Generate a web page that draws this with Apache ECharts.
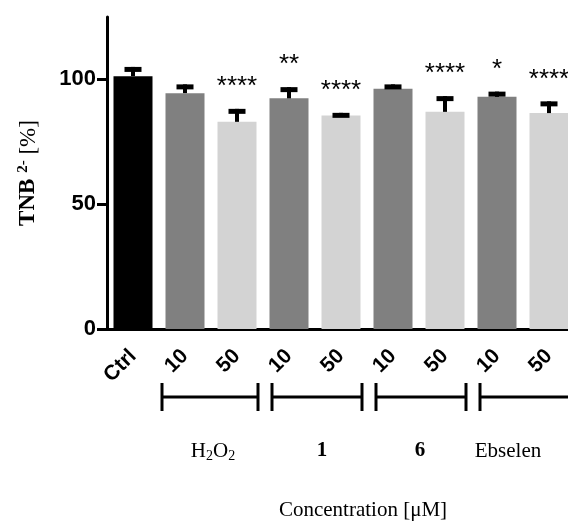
<!DOCTYPE html>
<html>
<head>
<meta charset="utf-8">
<script src="https://cdn.jsdelivr.net/npm/echarts@6/dist/echarts.min.js"></script>
<style>
  html, body { margin: 0; padding: 0; background: #fff; }
  #chart { width: 568px; height: 525px; }
</style>
</head>
<body>
<div id="chart"></div>
<script>
// bar labels along x
var categories = ['Ctrl', '10', '50', '10', '50', '10', '50', '10', '50'];
// mean TNB2- [%] and top of the error bar
var means = [101.3, 94.5, 83.0, 92.4, 85.5, 96.3, 87.0, 93.0, 86.5];
var errTop = [105.0, 98.0, 88.2, 96.9, 86.6, 98.0, 93.3, 95.1, 91.2];
var significance = ['', '', '****', '**', '****', '', '****', '*', '****'];
// groups under the axis: name + first/last bar index
var groups = ['H2O2', '1', '6', 'Ebselen'];
var groupStart = [1, 3, 5, 7];
var groupEnd = [2, 4, 6, 8];
var yTicks = [0, 50, 100];

var myChart = echarts.init(document.getElementById('chart'));

var barColor = function (idx) {
  if (idx === 0) return '#000000';
  return idx % 2 === 1 ? '#808080' : '#d3d3d3';
};

var serif = '"Liberation Serif", "Times New Roman", serif';

var getOptions = function () {
  return {
    animation: false,
    grid: {
      left: 107,
      width: 468, // plot runs past the right edge, last bar is cut like the original
      top: 17,
      bottom: 196,
      outerBoundsMode: 'none'
    },
    xAxis: {
      type: 'category',
      data: categories,
      axisLine: { lineStyle: { color: '#000', width: 3 } },
      axisTick: { show: false },
      axisLabel: {
        interval: 0,
        rotate: 45,
        margin: 24,
        color: '#000',
        fontFamily: 'Liberation Sans, Arial, sans-serif',
        fontWeight: 'bold',
        fontSize: 21
      }
    },
    yAxis: {
      type: 'value',
      min: 0,
      max: 125,
      interval: 50,
      splitLine: { show: false },
      axisLine: { show: true, lineStyle: { color: '#000', width: 3 } },
      axisTick: { show: true, length: 10, customValues: yTicks, lineStyle: { width: 3, color: '#000' } },
      axisLabel: {
        customValues: yTicks,
        margin: 11,
        color: '#000',
        fontFamily: 'Liberation Sans, Arial, sans-serif',
        fontWeight: 'bold',
        fontSize: 22
      },
      name: '{b|TNB }{sup|2-}{r| [%]}',
      nameLocation: 'middle',
      nameGap: 66,
      nameTextStyle: {
        rich: {
          b: { fontFamily: serif, fontWeight: 'bold', fontSize: 23, color: '#000' },
          sup: { fontFamily: serif, fontWeight: 'bold', fontSize: 15, color: '#000', verticalAlign: 'top', padding: [0, 0, 10, 0] },
          r: { fontFamily: serif, fontSize: 23, color: '#000' }
        }
      }
    },
    series: [
      {
        type: 'bar',
        barWidth: 39,
        data: means,
        itemStyle: {
          color: function (p) { return barColor(p.dataIndex); }
        }
      },
      {
        type: 'custom',
        clip: false,
        z: 5,
        data: means.map(function (m, i) { return [i, m, errTop[i]]; }),
        renderItem: function (params, api) {
          var base = api.coord([api.value(0), api.value(1)]);
          var top = api.coord([api.value(0), api.value(2)]);
          return {
            type: 'group',
            children: [
              { type: 'rect', shape: { x: base[0] - 2, y: top[1], width: 4, height: base[1] - top[1] }, style: { fill: '#000' } },
              { type: 'rect', shape: { x: base[0] - 8.5, y: top[1], width: 17, height: 5 }, style: { fill: '#000' } },
              {
                type: 'text',
                style: {
                  text: significance[params.dataIndex],
                  x: base[0],
                  y: top[1] - 22,
                  align: 'center',
                  verticalAlign: 'middle',
                  fill: '#000',
                  font: '26px "Liberation Sans", Arial, sans-serif'
                }
              }
            ]
          };
        }
      }
    ]
  };
};

myChart.setOption(getOptions(), true);

// brackets and group names under the x labels
var graphics = [];
var bracketY = 397;
var labelX = [213, 322, 420, 508];
groups.forEach(function (g, k) {
  var x0 = myChart.convertToPixel({ xAxisIndex: 0 }, groupStart[k]) - 17;
  var x1 = myChart.convertToPixel({ xAxisIndex: 0 }, groupEnd[k]) + 21;
  if (k === 0) x0 -= 6;
  graphics.push({ type: 'line', shape: { x1: x0, y1: bracketY, x2: x1, y2: bracketY }, style: { stroke: '#000', lineWidth: 3 } });
  graphics.push({ type: 'line', shape: { x1: x0, y1: bracketY - 14, x2: x0, y2: bracketY + 14 }, style: { stroke: '#000', lineWidth: 3 } });
  graphics.push({ type: 'line', shape: { x1: x1, y1: bracketY - 14, x2: x1, y2: bracketY + 14 }, style: { stroke: '#000', lineWidth: 3 } });
  var txt = g === 'H2O2' ? '{n|H}{s|2}{n|O}{s|2}' : (g === 'Ebselen' ? '{n|Ebselen}' : '{bd|' + g + '}');
  graphics.push({
    type: 'text',
    x: labelX[k],
    y: 451,
    style: {
      text: txt,
      align: 'center',
      verticalAlign: 'middle',
      rich: {
        n: { fontFamily: serif, fontSize: 21, fill: '#000', lineHeight: 24 },
        s: { fontFamily: serif, fontSize: 14, fill: '#000', verticalAlign: 'bottom', lineHeight: 24, padding: [9, 0, 0, 0] },
        bd: { fontFamily: serif, fontWeight: 'bold', fontSize: 21, fill: '#000' }
      }
    }
  });
});
graphics.push({
  type: 'text',
  x: 363,
  y: 510,
  style: {
    text: 'Concentration [μM]',
    align: 'center',
    verticalAlign: 'middle',
    font: '21px "Liberation Serif", serif',
    fill: '#000'
  }
});
myChart.setOption({ graphic: graphics });
</script>
</body>
</html>
